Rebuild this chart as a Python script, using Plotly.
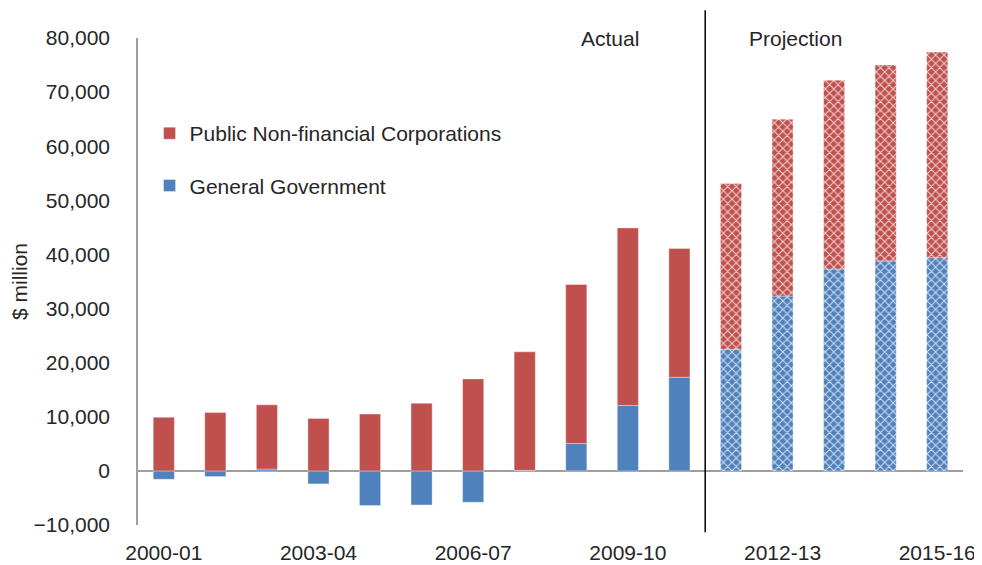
import plotly.graph_objects as go

years = ["2000-01", "2001-02", "2002-03", "2003-04", "2004-05", "2005-06", "2006-07",
         "2007-08", "2008-09", "2009-10", "2010-11", "2011-12", "2012-13", "2013-14",
         "2014-15", "2015-16"]

# $ million
general_gov = [-1550, -1050, 350, -2400, -6400, -6300, -5800, 100,
               5050, 12100, 17300, 22500, 32300, 37300, 38800, 39400]
public_nfc = [9900, 10800, 11850, 9700, 10500, 12500, 17000, 21900,
              29400, 32800, 23800, 30600, 32700, 34900, 36200, 38000]

n_actual = 11  # 2000-01 to 2010-11 actual, rest projection
tick_years = ["2000-01", "2003-04", "2006-07", "2009-10", "2012-13", "2015-16"]

RED = "#C0504D"
BLUE = "#4F81BD"
TXT = "#262626"
FS = 21

shapes_pat = [""] * n_actual + ["x"] * (len(years) - n_actual)

fig = go.Figure()

fig.add_trace(go.Bar(
    x=years, y=general_gov, name="General Government",
    legendgroup="gg", legendrank=2,
    marker=dict(color=BLUE, line=dict(color="rgba(255,255,255,0.6)", width=0.6),
                pattern=dict(shape=shapes_pat, fillmode="overlay", fgcolor="white",
                             fgopacity=0.75, size=6, solidity=0.3)),
))
fig.add_trace(go.Bar(
    x=years, y=public_nfc, name="Public Non-financial Corporations",
    legendgroup="pnfc", legendrank=1,
    marker=dict(color=RED, line=dict(color="rgba(255,255,255,0.6)", width=0.6),
                pattern=dict(shape=shapes_pat, fillmode="overlay", fgcolor="white",
                             fgopacity=0.75, size=6, solidity=0.3)),
))

# actual / projection divider
fig.add_shape(type="line", xref="x", yref="paper", x0=10.5, x1=10.5,
              y0=-0.015, y1=1.057, line=dict(color="black", width=1.5))

fig.add_annotation(text="Actual", xref="x", yref="paper", x=8.66, y=1.0,
                   yanchor="middle", showarrow=False, font=dict(size=FS, color=TXT))
fig.add_annotation(text="Projection", xref="x", yref="paper", x=12.26, y=1.0,
                   yanchor="middle", showarrow=False, font=dict(size=FS, color=TXT))

# page body has an 8px margin, so the figure is a bit smaller than the window
fig.update_layout(
    width=974, height=557,
    barmode="relative",
    bargap=0.59,
    plot_bgcolor="white",
    paper_bgcolor="white",
    font=dict(family="Liberation Sans, Arial, sans-serif", size=FS, color=TXT),
    margin=dict(l=130, r=19, t=30, b=40),
    showlegend=True,
    legend=dict(x=0.014, y=0.846, xanchor="left", yanchor="top",
                traceorder="grouped", tracegroupgap=22,
                bgcolor="rgba(0,0,0,0)", font=dict(size=FS, color=TXT)),
    xaxis=dict(type="category", categoryorder="array", categoryarray=years,
               range=[-0.5, 15.5], tickmode="array", tickvals=tick_years,
               ticktext=tick_years, showgrid=False, showline=False, ticks="",
               ticklabelstandoff=13, automargin=False,
               zeroline=False, tickfont=dict(size=FS, color=TXT)),
    yaxis=dict(title=dict(text="$ million", font=dict(size=FS, color=TXT), standoff=6),
               range=[-10000, 80000], dtick=10000, tickformat=",",
               ticklabelstandoff=22, automargin=False,
               showgrid=False, showline=True, linecolor="#9e9e9e", linewidth=1.5,
               ticks="", zeroline=True, zerolinecolor="#9e9e9e", zerolinewidth=1.5,
               tickfont=dict(size=FS, color=TXT)),
)

fig.write_html("out.html")
